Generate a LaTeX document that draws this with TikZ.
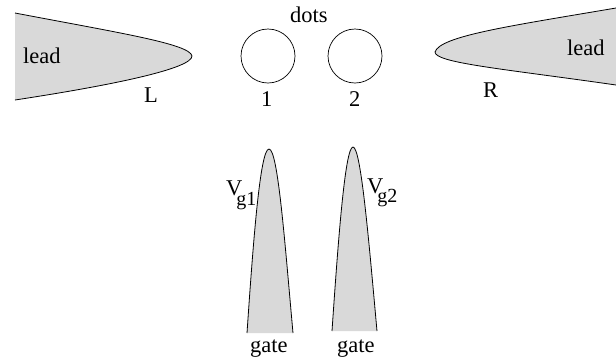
\documentclass[tikz,border=0pt]{standalone}
\usepackage{fontspec}
\setmainfont{Liberation Serif}
\usepackage{xcolor}
\usetikzlibrary{
    calc,
    positioning
}
\definecolor{leadgray}{HTML}{D9D9D9}
\newcommand{\subfont}{\fontsize{20}{22}\selectfont}
\tikzset{
    lbl/.style={anchor=base west, inner sep=0pt, font=\fontsize{22.5}{24}\selectfont},
    dot/.style={draw, circle, minimum size=54pt, inner sep=0pt, line width=0.7pt},
    metal/.style={draw, fill=leadgray, line width=0.8pt}
}

\begin{document}
\begin{tikzpicture}[x=1pt, y=-1pt]
    \useasboundingbox (0, 0) rectangle (616, 360);
    \node[dot] (d1) at (268, 56) {};
    \node[dot] (d2) at (355, 56) {};
    \draw[metal] (15, 13) .. controls (120, 33) and (190, 44) .. (192, 56)
        .. controls (192, 68) and (120, 84) .. (15, 100);
    \draw[metal] (616, 8) .. controls (510, 26) and (440, 36) .. (435, 52)
        .. controls (435, 63) and (505, 69) .. (616, 85);
    \draw[metal] (247, 333) .. controls (253, 245) and (260, 149) .. (269, 149)
        .. controls (278, 149) and (285, 245) .. (293, 333);
    \draw[metal] (332, 331) .. controls (338, 243) and (345, 147) .. (353, 147)
        .. controls (361, 147) and (369, 243) .. (377, 331);
    \node[lbl] (dots) at (290, 22) {dots};
    \node[lbl] (leadl) at (23, 63) {lead};
    \node[lbl] (leadr) at (567, 55) {lead};
    \node[lbl] (labl) at (144, 102) {L};
    \node[lbl] (labr) at (483, 97) {R};
    \node[lbl] (n1) at (261, 106) {1};
    \node[lbl] (n2) at (349, 106) {2};
    \node[lbl] (vg1) at (226, 195) {V\kern-6pt\raisebox{-10pt}{\subfont g1}};
    \node[lbl] (vg2) at (367, 193) {V\kern-6pt\raisebox{-9pt}{\subfont g2}};
    \node[lbl] (g1) at (250, 352) {gate};
    \node[lbl] (g2) at (337, 352) {gate};
\end{tikzpicture}
\end{document}
